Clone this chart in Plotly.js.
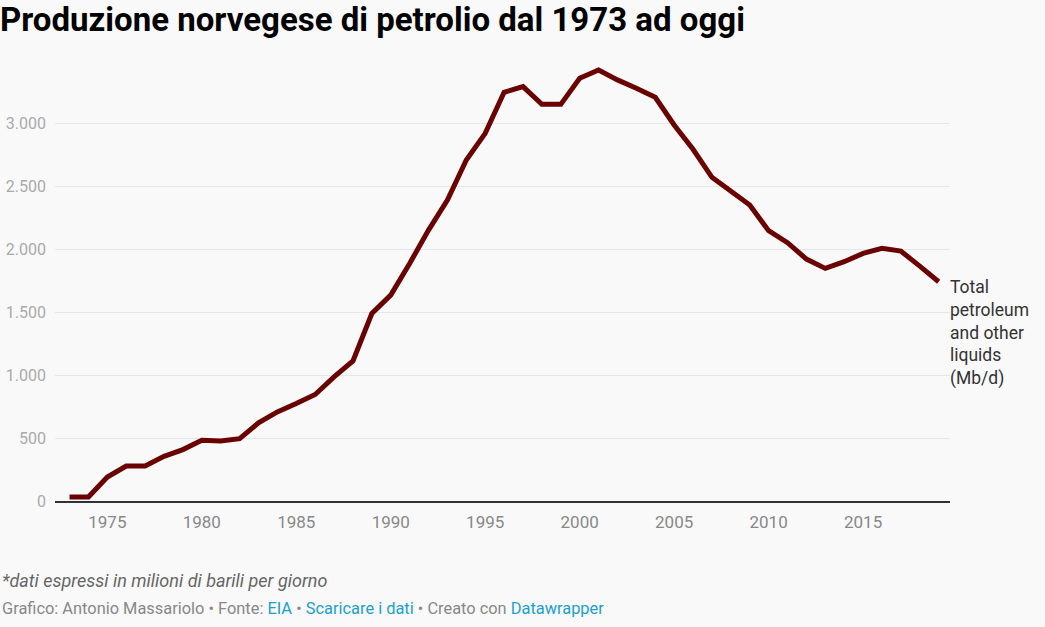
<!DOCTYPE html>
<html>
<head>
<meta charset="utf-8">
<script src="https://cdn.plot.ly/plotly-3.0.1.min.js"></script>
<style>
  html, body { margin: 0; padding: 0; background: #f9f9f9; }
  #chart { width: 1045px; height: 627px; }
</style>
</head>
<body>
<div id="chart"></div>
<script>
// Norway total petroleum and other liquids, thousand barrels per day
const years = [
    1973, 1974, 1975, 1976, 1977, 1978, 1979, 1980, 1981, 1982,
    1983, 1984, 1985, 1986, 1987, 1988, 1989, 1990, 1991, 1992,
    1993, 1994, 1995, 1996, 1997, 1998, 1999, 2000, 2001, 2002,
    2003, 2004, 2005, 2006, 2007, 2008, 2009, 2010, 2011, 2012,
    2013, 2014, 2015, 2016, 2017, 2018, 2019
];
const production = [
    32, 32, 190, 278, 278, 355, 408, 482, 477, 495,
    620, 707, 773, 845, 985, 1112, 1488, 1634, 1885, 2150,
    2388, 2706, 2918, 3244, 3289, 3148, 3148, 3355, 3421, 3342,
    3276, 3204, 2984, 2791, 2569, 2463, 2349, 2145, 2050, 1920,
    1846, 1899, 1965, 2005, 1983, 1864, 1740
];
const seriesLabel = 'Total<br>petroleum<br>and other<br>liquids<br>(Mb/d)';
const yTicks = [0, 500, 1000, 1500, 2000, 2500, 3000];
const xTicks = [1975, 1980, 1985, 1990, 1995, 2000, 2005, 2010, 2015];

const W = 1045, H = 627;
const M = { l: 55, r: 95, t: 60, b: 126 };
const plotW = W - M.l - M.r;
const plotH = H - M.t - M.b;
// pixel -> paper helpers for the footer text
const px = x => (x - M.l) / plotW;
const py = y => (H - M.b - y) / plotH;

const FONT = 'Roboto, sans-serif';
const LINK = '#1ba0cc';

const trace = {
    x: years,
    y: production,
    type: 'scatter',
    mode: 'lines',
    line: { color: '#6b0202', width: 5 },
    hoverinfo: 'x+y',
};

const layout = {
    width: W,
    height: H,
    paper_bgcolor: '#f9f9f9',
    plot_bgcolor: '#f9f9f9',
    separators: ',.',
    font: { family: FONT, color: '#333' },
    margin: M,
    showlegend: false,
    title: {
        text: '<b>Produzione norvegese di petrolio dal 1973 ad oggi</b>',
        font: { family: FONT, size: 33, color: '#000' },
        x: 0, xref: 'container', xanchor: 'left',
        y: 1 - 19 / H, yref: 'container', yanchor: 'middle',
    },
    xaxis: {
        range: [1972.23, 2019.6],
        tickvals: xTicks,
        ticks: '',
        showgrid: false,
        zeroline: false,
        showline: true,
        linecolor: '#333',
        linewidth: 2,
        tickfont: { family: FONT, size: 17, color: '#888' },
        ticklabelstandoff: 5,
    },
    yaxis: {
        range: [0, 3500],
        tickvals: yTicks,
        tickformat: ',d',
        ticks: '',
        showgrid: true,
        gridcolor: '#e6e6e6',
        gridwidth: 1,
        zeroline: false,
        showline: false,
        tickfont: { family: FONT, size: 16, color: '#aaa' },
        ticklabelstandoff: 8,
    },
    annotations: [
        {
            x: 1, xref: 'paper', xanchor: 'left', xshift: -2,
            y: production[production.length - 1], yref: 'y', yanchor: 'top',
            yshift: 7,
            text: seriesLabel,
            showarrow: false,
            align: 'left',
            font: { family: FONT, size: 17.5, color: '#333' },
        },
        {
            x: px(0), xref: 'paper', xanchor: 'left',
            y: py(580), yref: 'paper', yanchor: 'middle',
            text: '<i>*dati espressi in milioni di barili per giorno</i>',
            showarrow: false,
            align: 'left',
            font: { family: FONT, size: 18, color: '#666' },
        },
        {
            x: px(0), xref: 'paper', xanchor: 'left',
            y: py(608), yref: 'paper', yanchor: 'middle',
            text: 'Grafico: Antonio Massariolo • Fonte: <span style="color:' + LINK + '">EIA</span> • ' +
                  '<span style="color:' + LINK + '">Scaricare i dati</span> • Creato con ' +
                  '<span style="color:' + LINK + '">Datawrapper</span>',
            showarrow: false,
            align: 'left',
            font: { family: FONT, size: 16.4, color: '#888' },
        },
    ],
};

Plotly.newPlot('chart', [trace], layout, { displayModeBar: false, staticPlot: true });
</script>
</body>
</html>
